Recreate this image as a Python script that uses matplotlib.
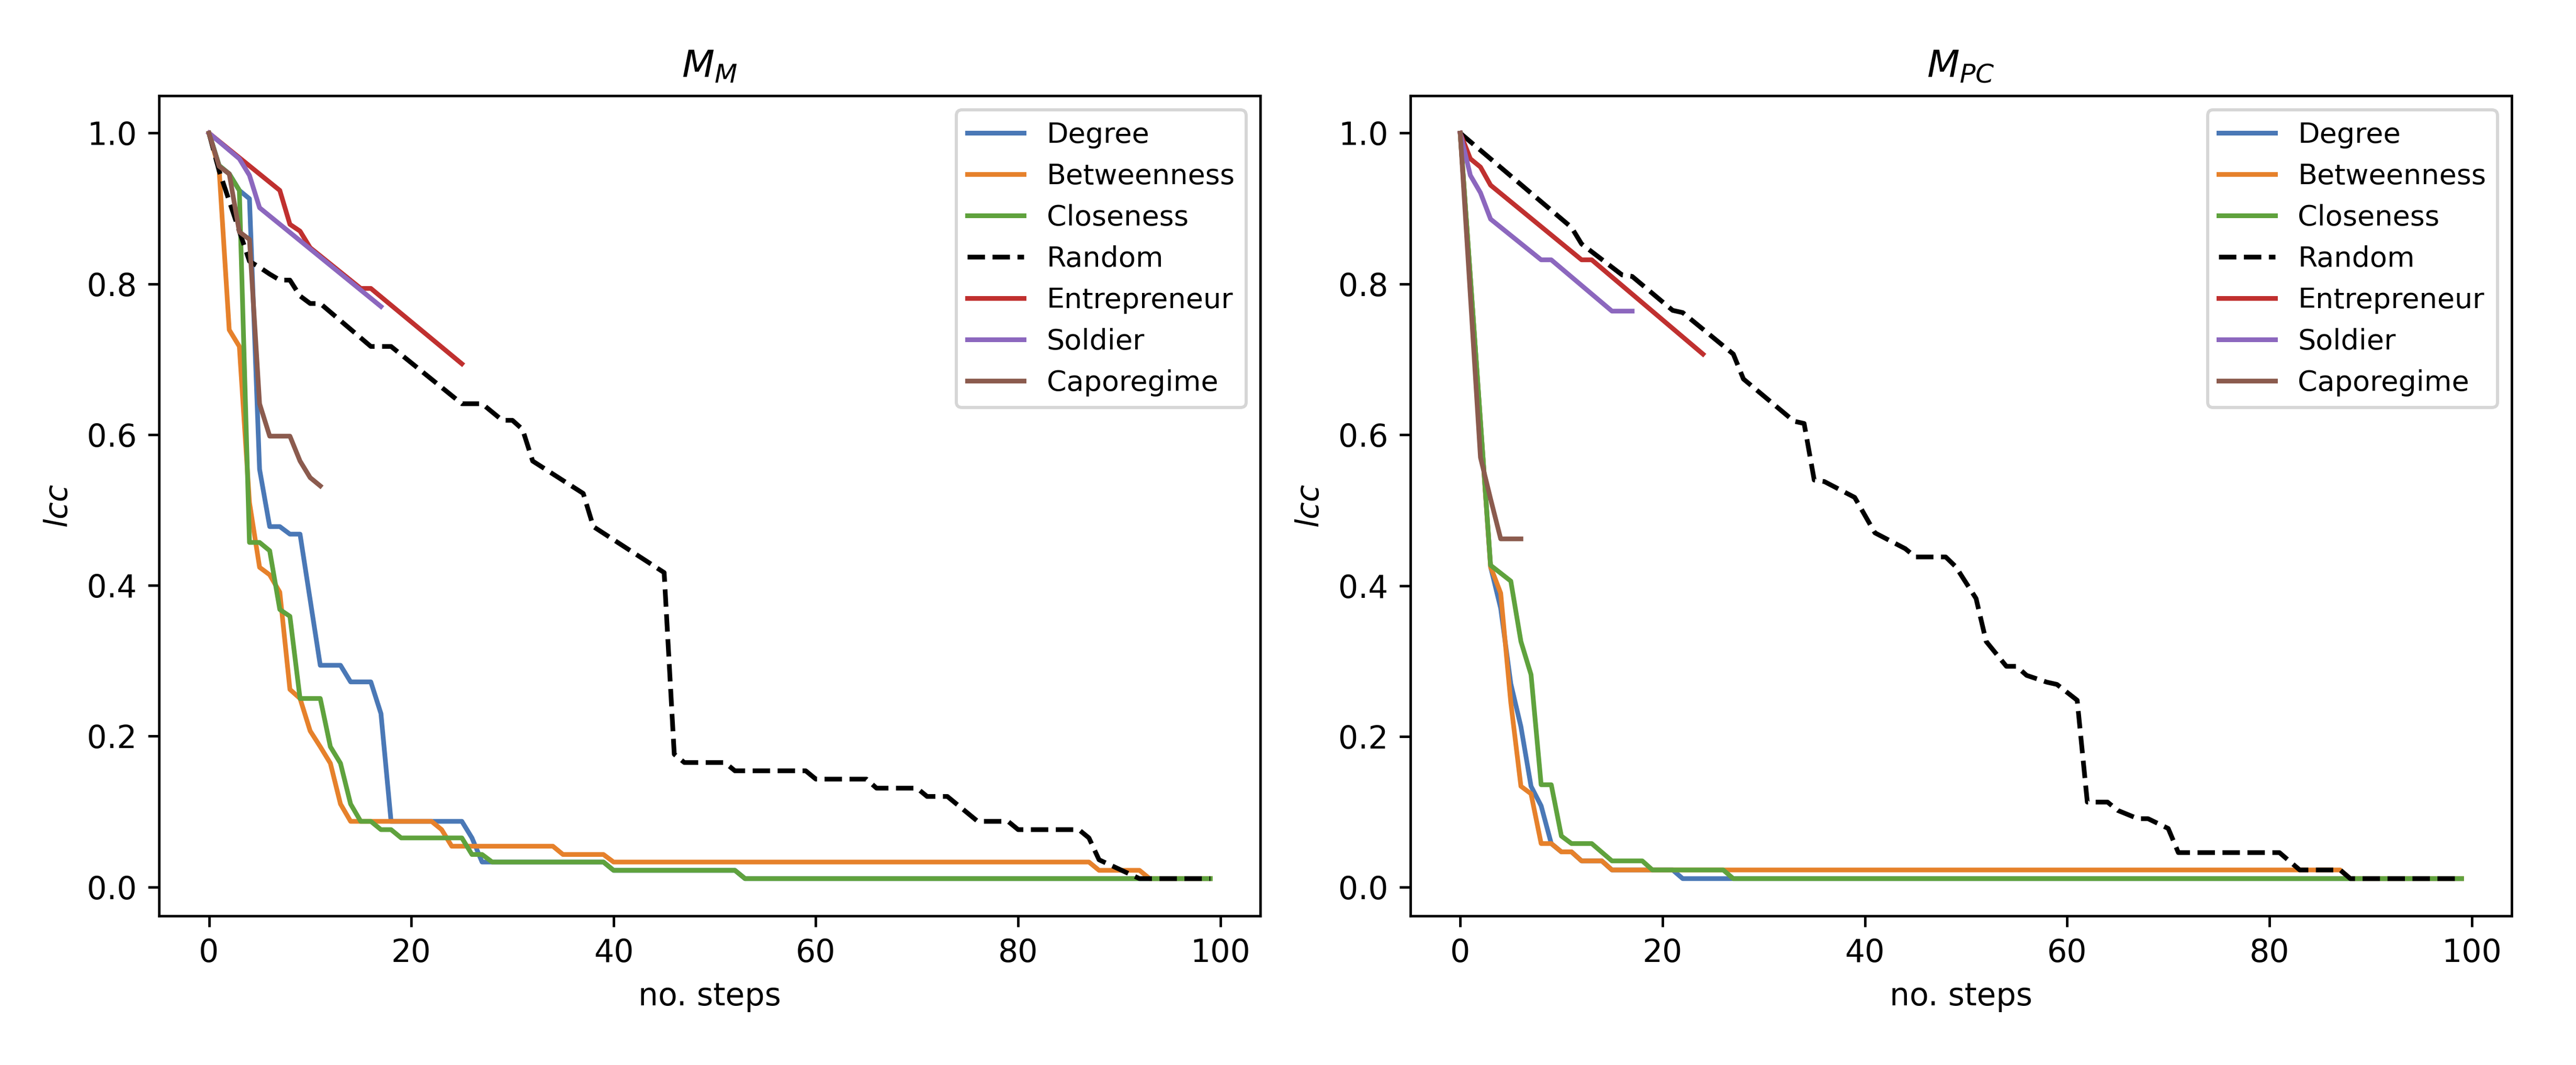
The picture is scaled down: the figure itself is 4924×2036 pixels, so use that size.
#!/usr/bin/env python3
"""
Largest connected component (lcc) under node-removal attacks,
two networks side by side (M_M and M_PC).
"""

import matplotlib
matplotlib.use('Agg')
import matplotlib.pyplot as plt

# ── global typography / style ─────────────────────────────────────────────────
plt.rcParams.update({
    'font.family': 'DejaVu Sans',
    'font.size': 10,
    'axes.titlesize': 12,
    'legend.fontsize': 9,
    'lines.linewidth': 1.5,
})

# ── palette ──────────────────────────────────────────────────────────────────
C_DEGREE  = '#4a78b6'
C_BETW    = '#e6812b'
C_CLOSE   = '#5fa23d'
C_RANDOM  = 'black'
C_ENTR    = '#c0302f'
C_SOLD    = '#8c67be'
C_CAPO    = '#8b5b4e'

# ═══════════════════════════════════════════════════════════════════════════════
#  DATA  —  M_M
# ═══════════════════════════════════════════════════════════════════════════════
mm_degree_steps = [0, 1, 2, 3, 4, 5, 6, 7, 8, 9, 11, 13, 14, 16, 17, 18, 25, 26, 27, 39, 40, 52, 53, 99]
mm_degree_lcc   = [1.0, 0.957, 0.946, 0.924, 0.913, 0.554, 0.478, 0.478, 0.468, 0.468, 0.294, 0.294,
                   0.272, 0.272, 0.230, 0.087, 0.087, 0.065, 0.033, 0.033, 0.022, 0.022, 0.011, 0.011]

mm_betw_steps = [0, 1, 2, 3, 4, 5, 6, 7, 8, 9, 10, 11, 12, 13, 14, 22, 23, 24, 34, 35, 39, 40, 87, 88, 92, 93, 99]
mm_betw_lcc   = [1.0, 0.952, 0.739, 0.717, 0.51, 0.424, 0.414, 0.391, 0.262, 0.250, 0.207, 0.186, 0.164,
                 0.110, 0.087, 0.087, 0.076, 0.054, 0.054, 0.043, 0.043, 0.033, 0.033, 0.022, 0.022, 0.011, 0.011]

mm_close_steps = [0, 1, 2, 3, 4, 5, 6, 7, 8, 9, 11, 12, 13, 14, 15, 16, 17, 18, 19, 25, 26, 27, 28,
                  39, 40, 52, 53, 99]
mm_close_lcc   = [1.0, 0.957, 0.946, 0.924, 0.457, 0.457, 0.446, 0.368, 0.359, 0.250, 0.250, 0.186,
                  0.164, 0.110, 0.087, 0.087, 0.076, 0.076, 0.065, 0.065, 0.043, 0.043, 0.033,
                  0.033, 0.022, 0.022, 0.011, 0.011]

mm_rand_steps = [0, 1, 2, 3, 4, 5, 6, 7, 8, 9, 10, 11, 16, 18, 25, 27, 28, 29, 30, 31, 32, 37, 38,
                 45, 46, 47, 51, 52, 59, 60, 65, 66, 70, 71, 73, 76, 79, 80, 86, 87, 88, 92, 99]
mm_rand_lcc   = [1.0, 0.95, 0.91, 0.87, 0.83, 0.822, 0.813, 0.805, 0.805, 0.784, 0.774, 0.774, 0.717,
                 0.717, 0.641, 0.641, 0.630, 0.619, 0.619, 0.607, 0.565, 0.522, 0.478, 0.417, 0.176,
                 0.165, 0.165, 0.154, 0.154, 0.143, 0.143, 0.131, 0.131, 0.120, 0.120, 0.087, 0.087,
                 0.076, 0.076, 0.065, 0.036, 0.011, 0.011]

mm_entr_steps = [0, 7, 8, 9, 10, 15, 16, 25]
mm_entr_lcc   = [1.0, 0.924, 0.879, 0.870, 0.848, 0.794, 0.794, 0.694]

mm_sold_steps = [0, 3, 4, 5, 17]
mm_sold_lcc   = [1.0, 0.966, 0.944, 0.901, 0.770]

mm_capo_steps = [0, 1, 2, 3, 4, 5, 6, 8, 9, 10, 11]
mm_capo_lcc   = [1.0, 0.956, 0.946, 0.869, 0.859, 0.641, 0.598, 0.598, 0.565, 0.543, 0.532]

# ═══════════════════════════════════════════════════════════════════════════════
#  DATA  —  M_PC
# ═══════════════════════════════════════════════════════════════════════════════
mpc_degree_steps = [0, 3, 4, 5, 6, 7, 8, 9, 10, 11, 12, 14, 15, 21, 22, 99]
mpc_degree_lcc   = [1.0, 0.425, 0.37, 0.27, 0.213, 0.134, 0.108, 0.058, 0.047, 0.047, 0.035, 0.035,
                    0.023, 0.023, 0.0115, 0.0115]

mpc_betw_steps = [0, 3, 4, 5, 6, 7, 8, 9, 10, 11, 12, 14, 15, 87, 88, 99]
mpc_betw_lcc   = [1.0, 0.425, 0.39, 0.245, 0.134, 0.124, 0.058, 0.058, 0.047, 0.047, 0.035, 0.035,
                  0.023, 0.023, 0.0115, 0.0115]

mpc_close_steps = [0, 3, 5, 6, 7, 8, 9, 10, 11, 13, 15, 18, 19, 26, 27, 99]
mpc_close_lcc   = [1.0, 0.427, 0.406, 0.326, 0.282, 0.136, 0.136, 0.068, 0.058, 0.058, 0.035, 0.035,
                   0.023, 0.023, 0.0115, 0.0115]

mpc_rand_steps = [0, 11, 12, 16, 17, 21, 22, 27, 28, 33, 34, 35, 36, 39, 41, 42, 44, 45, 48, 49, 51,
                  52, 54, 55, 56, 58, 59, 61, 62, 64, 65, 67, 68, 70, 71, 81, 83, 87, 88, 99]
mpc_rand_lcc   = [1.0, 0.875, 0.853, 0.812, 0.810, 0.765, 0.762, 0.707, 0.674, 0.618, 0.615, 0.540,
                  0.538, 0.517, 0.470, 0.463, 0.449, 0.438, 0.438, 0.425, 0.383, 0.326, 0.293, 0.293,
                  0.281, 0.272, 0.269, 0.248, 0.113, 0.113, 0.102, 0.091, 0.091, 0.078, 0.046, 0.046,
                  0.023, 0.023, 0.0115, 0.0115]

mpc_entr_steps = [0, 1, 2, 3, 12, 13, 24]
mpc_entr_lcc   = [1.0, 0.966, 0.955, 0.931, 0.832, 0.832, 0.707]

mpc_sold_steps = [0, 1, 2, 3, 8, 9, 15, 17]
mpc_sold_lcc   = [1.0, 0.944, 0.921, 0.886, 0.832, 0.832, 0.764, 0.764]

mpc_capo_steps = [0, 2, 3, 4, 6]
mpc_capo_lcc   = [1.0, 0.57, 0.515, 0.462, 0.462]

panels = [
    ('$M_M$', [
        ('Degree',       mm_degree_steps, mm_degree_lcc, C_DEGREE, '-'),
        ('Betweenness',  mm_betw_steps,   mm_betw_lcc,   C_BETW,   '-'),
        ('Closeness',    mm_close_steps,  mm_close_lcc,  C_CLOSE,  '-'),
        ('Random',       mm_rand_steps,   mm_rand_lcc,   C_RANDOM, '--'),
        ('Entrepreneur', mm_entr_steps,   mm_entr_lcc,   C_ENTR,   '-'),
        ('Soldier',      mm_sold_steps,   mm_sold_lcc,   C_SOLD,   '-'),
        ('Caporegime',   mm_capo_steps,   mm_capo_lcc,   C_CAPO,   '-'),
    ]),
    ('$M_{PC}$', [
        ('Degree',       mpc_degree_steps, mpc_degree_lcc, C_DEGREE, '-'),
        ('Betweenness',  mpc_betw_steps,   mpc_betw_lcc,   C_BETW,   '-'),
        ('Closeness',    mpc_close_steps,  mpc_close_lcc,  C_CLOSE,  '-'),
        ('Random',       mpc_rand_steps,   mpc_rand_lcc,   C_RANDOM, '--'),
        ('Entrepreneur', mpc_entr_steps,   mpc_entr_lcc,   C_ENTR,   '-'),
        ('Soldier',      mpc_sold_steps,   mpc_sold_lcc,   C_SOLD,   '-'),
        ('Caporegime',   mpc_capo_steps,   mpc_capo_lcc,   C_CAPO,   '-'),
    ]),
]

# ═══════════════════════════════════════════════════════════════════════════════
#  FIGURE
# ═══════════════════════════════════════════════════════════════════════════════
DPI = 432
fig, axes = plt.subplots(1, 2, figsize=(4924 / DPI, 2036 / DPI))
fig.subplots_adjust(left=0.0617, right=0.975, bottom=0.140, top=0.910, wspace=0.136)

for ax, (title, series) in zip(axes, panels):
    for label, steps, lcc, colour, ls in series:
        ax.plot(steps, lcc, color=colour, linestyle=ls, label=label)
    ax.set_title(title)
    ax.set_xlabel('no. steps')
    ax.set_ylabel('$lcc$')
    ax.legend(loc='upper right')

fig.savefig('out.png', dpi=DPI)
plt.close(fig)
